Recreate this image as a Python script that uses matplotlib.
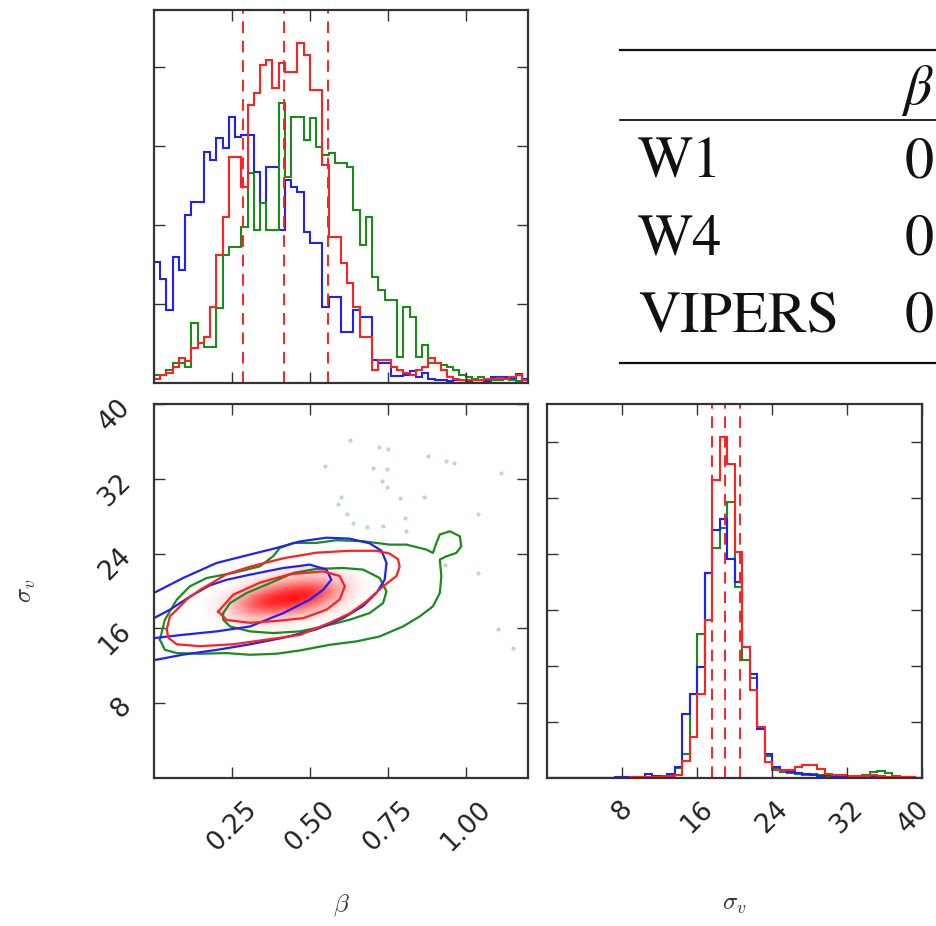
import numpy as np
import matplotlib
matplotlib.use("Agg")
import matplotlib.pyplot as plt
import matplotlib.transforms as mtransforms
from matplotlib.colors import LinearSegmentedColormap
from matplotlib.lines import Line2D

plt.rcParams['mathtext.fontset'] = 'cm'

# ---- data ----
# beta histograms, 60 bins over 0..1.2 (counts, arbitrary units)
beta_edges = np.linspace(0.0, 1.2, 61)
beta_w1 = [121, 104, 73, 126, 113, 168, 181, 181, 231, 223,
           245, 235, 266, 246, 248, 248, 211, 180, 216, 216,
           153, 203, 196, 191, 151, 140, 140, 76, 86, 86,
           51, 51, 73, 66, 66, 23, 20, 20, 7, 7,
           8, 12, 6, 10, 4, 3, 3, 2, 3, 3,
           2, 3, 3, 2, 6, 6, 6, 4, 9, 4]
beta_w4 = [8, 8, 13, 20, 20, 16, 60, 40, 36, 36,
           75, 128, 136, 136, 156, 210, 153, 180, 153, 153,
           280, 206, 266, 266, 243, 265, 236, 228, 230, 220,
           220, 216, 173, 138, 166, 106, 93, 83, 83, 26,
           76, 66, 26, 38, 20, 20, 18, 16, 13, 8,
           6, 4, 6, 4, 3, 3, 4, 3, 2, 3]
beta_vipers = [4, 8, 10, 16, 25, 22, 35, 40, 46, 76,
               128, 166, 226, 226, 196, 278, 290, 318, 323, 295,
               320, 311, 311, 340, 328, 293, 293, 218, 146, 146,
               120, 100, 76, 46, 46, 13, 23, 23, 16, 13,
               10, 8, 13, 16, 25, 20, 13, 6, 4, 3,
               3, 3, 3, 4, 4, 5, 4, 6, 8, 3]
beta_quantiles = [0.286, 0.418, 0.559]

# sigma_v histograms, 50 bins over 0..40
sig_edges = np.linspace(0.0, 40.0, 51)
sig_w1 = [0, 0, 0, 0, 0, 0, 0, 0, 0, 1,
          1, 1, 1, 4, 2, 1, 4, 11, 64, 84,
          111, 205, 248, 259, 219, 196, 131, 104, 49, 24,
          11, 8, 6, 5, 4, 3, 2, 3, 2, 1,
          1, 1, 2, 1, 1, 1, 1, 0, 1, 0]
sig_w4 = [0, 0, 0, 0, 0, 0, 0, 0, 0, 0,
          0, 0, 1, 1, 1, 2, 3, 10, 24, 84,
          144, 205, 230, 250, 276, 191, 118, 100, 50, 22,
          10, 6, 5, 4, 3, 4, 3, 2, 2, 2,
          2, 2, 3, 6, 7, 5, 2, 1, 1, 0]
sig_vipers = [0, 0, 0, 0, 0, 0, 0, 0, 0, 0,
              0, 1, 1, 1, 1, 1, 2, 3, 17, 41,
              84, 158, 298, 341, 314, 226, 131, 88, 51, 16,
              8, 8, 8, 11, 13, 13, 9, 4, 3, 3,
              2, 2, 2, 3, 2, 1, 1, 1, 1, 0]
sig_quantiles = [17.6, 19.0, 20.55]

# 2D contours (beta, sigma_v)
w1_outer_b = [0.0, 0.094, 0.201, 0.308, 0.393, 0.468, 0.553, 0.628, 0.692, 0.73, 0.746, 0.74, 0.714, 0.671, 0.607, 0.521, 0.415, 0.308, 0.201, 0.094, 0.0]
w1_outer_s = [19.8, 21.4, 23.0, 23.9, 24.6, 25.3, 25.7, 25.6, 25.1, 24.3, 23.0, 21.2, 19.8, 18.4, 17.1, 15.9, 15.0, 14.3, 13.7, 13.2, 12.6]
w1_inner_b = [0.0, 0.051, 0.115, 0.179, 0.233, 0.308, 0.415, 0.5, 0.553, 0.569, 0.543, 0.5, 0.415, 0.308, 0.201, 0.094, 0.0]
w1_inner_s = [17.1, 18.0, 19.4, 20.6, 21.2, 21.75, 22.46, 22.82, 22.3, 21.2, 20.14, 19.07, 17.64, 16.21, 15.68, 15.32, 14.96]

w4_outer_b = [0.019, 0.035, 0.073, 0.115, 0.169, 0.254, 0.34, 0.382, 0.404, 0.447, 0.521, 0.585, 0.671, 0.756, 0.81, 0.874, 0.895, 0.906, 0.917, 0.949, 0.981, 0.986, 0.97, 0.938, 0.917, 0.922, 0.917, 0.895, 0.853, 0.799, 0.724, 0.65, 0.564, 0.468, 0.393, 0.308, 0.233, 0.147, 0.073, 0.035, 0.019]
w4_outer_s = [14.79, 16.93, 19.07, 20.5, 21.39, 21.93, 22.64, 23.71, 24.61, 25.14, 25.14, 25.43, 25.32, 24.96, 24.96, 24.43, 24.07, 25.14, 26.04, 26.39, 25.86, 24.79, 24.07, 23.71, 23.36, 21.57, 19.79, 18.36, 17.29, 16.21, 15.14, 14.61, 14.25, 13.64, 13.29, 13.18, 13.36, 13.29, 13.36, 13.71, 14.79]
w4_inner_b = [0.222, 0.244, 0.297, 0.361, 0.447, 0.521, 0.607, 0.671, 0.724, 0.746, 0.735, 0.692, 0.628, 0.543, 0.468, 0.382, 0.308, 0.244, 0.222, 0.222]
w4_inner_s = [17.64, 18.71, 19.79, 20.68, 21.93, 22.36, 22.46, 22.29, 21.39, 19.96, 18.71, 17.64, 16.93, 16.21, 15.68, 15.5, 15.68, 16.21, 16.93, 17.64]

vip_outer_b = [0.041, 0.051, 0.073, 0.105, 0.147, 0.233, 0.308, 0.415, 0.521, 0.628, 0.714, 0.756, 0.783, 0.788, 0.778, 0.735, 0.682, 0.628, 0.564, 0.468, 0.361, 0.254, 0.147, 0.073, 0.046, 0.041]
vip_outer_s = [15.9, 17.3, 18.0, 19.1, 20.1, 21.8, 22.6, 23.5, 24.1, 24.3, 24.3, 24.0, 23.4, 22.6, 21.6, 20.5, 18.9, 17.6, 16.6, 15.3, 14.8, 14.3, 14.1, 14.3, 15.0, 15.9]
vip_inner_b = [0.206, 0.254, 0.34, 0.436, 0.543, 0.596, 0.612, 0.596, 0.553, 0.479, 0.393, 0.308, 0.233, 0.206]
vip_inner_s = [17.8, 19.6, 20.9, 21.8, 22.1, 21.6, 20.5, 19.1, 18.0, 17.1, 16.8, 16.6, 16.9, 17.8]

# VIPERS density (rows sigma 22 -> 15, cols beta 0.15 -> 0.70)
dens_beta = [0.15, 0.20, 0.25, 0.30, 0.35, 0.40, 0.45, 0.50, 0.55, 0.60, 0.65, 0.70]
dens_sig = [22, 21, 20, 19, 18, 17, 16, 15]
vip_density = [
    [0, 0, 0, 0, 0, 0.05, 0.10, 0.15, 0.10, 0.05, 0, 0],
    [0, 0, 0, 0.05, 0.15, 0.25, 0.35, 0.40, 0.35, 0.20, 0.05, 0],
    [0, 0, 0.05, 0.20, 0.45, 0.70, 0.85, 0.90, 0.70, 0.30, 0.05, 0],
    [0, 0.05, 0.20, 0.55, 0.90, 1.00, 1.00, 0.85, 0.45, 0.15, 0, 0],
    [0, 0.05, 0.25, 0.55, 0.70, 0.70, 0.55, 0.35, 0.15, 0.05, 0, 0],
    [0, 0.03, 0.10, 0.20, 0.20, 0.15, 0.10, 0.05, 0, 0, 0, 0],
    [0, 0, 0.03, 0.05, 0.05, 0.03, 0, 0, 0, 0, 0, 0],
    [0, 0, 0, 0, 0, 0, 0, 0, 0, 0, 0, 0],
]

# stray W4 samples
w4_pts_b = [0.628, 0.722, 0.752, 0.879, 0.938, 0.962, 1.114, 0.548, 0.703, 0.746, 0.746, 0.73, 0.601, 0.591, 0.788, 0.865, 0.618, 0.639, 0.682, 0.735, 0.804, 0.81, 1.04, 1.04, 0.933, 1.104, 1.152]
w4_pts_s = [36.2, 35.4, 35.2, 34.4, 33.9, 33.7, 32.6, 33.4, 33.2, 33.0, 31.1, 31.8, 30.0, 29.3, 29.9, 30.0, 28.2, 27.3, 26.8, 26.9, 27.8, 26.4, 28.2, 21.9, 22.8, 15.9, 13.9]

beta_ticks = [0.25, 0.50, 0.75, 1.00]
sig_ticks = [8, 16, 24, 32, 40]

table_rows = ['W1', 'W4', 'VIPERS']
table_vals = ['0', '0', '0']

c_w1, c_w4, c_vip = '#2020ff', '#1a8c1a', '#ff2020'

fig = plt.figure(figsize=(9.36, 9.26), dpi=100)
ax_b = fig.add_axes([154/936, 1-383/926, 374/936, 373/926])
ax_2d = fig.add_axes([154/936, 1-778/926, 374/936, 374/926])
ax_s = fig.add_axes([547/936, 1-778/926, 375/936, 374/926])


def style(ax):
    ax.tick_params(direction='in', length=8, width=1, top=True, right=True,
                   colors='#333333', labelcolor='#222222', labelsize=19, pad=13)
    for s in ax.spines.values():
        s.set_linewidth(1.6)
        s.set_color('#333333')


# top: beta histogram
for vals, c in [(beta_w1, c_w1), (beta_w4, c_w4), (beta_vipers, c_vip)]:
    ax_b.stairs(vals, beta_edges, color=c, lw=1.5)
for q in beta_quantiles:
    ax_b.axvline(q, color=c_vip, ls=(0, (6, 4)), lw=1.4)
ax_b.set_xlim(0, 1.2)
ax_b.set_ylim(0, 373)
ax_b.set_xticks(beta_ticks)
ax_b.set_yticks([79, 158, 237, 316])
ax_b.set_xticklabels([])
ax_b.set_yticklabels([])
style(ax_b)

# bottom-left: 2D
red_cmap = LinearSegmentedColormap.from_list('wr', ['#ffffff', '#ff0000'])
db = dens_beta[1] - dens_beta[0]
ds = dens_sig[0] - dens_sig[1]
ax_2d.imshow(vip_density, cmap=red_cmap, vmin=0, vmax=1, aspect='auto',
             interpolation='bicubic', origin='upper',
             extent=[dens_beta[0] - db/2, dens_beta[-1] + db/2,
                     dens_sig[-1] - ds/2, dens_sig[0] + ds/2])
ax_2d.plot(w4_pts_b, w4_pts_s, 'o', ms=3, color=c_w4, alpha=0.3, mec='none')
for xs, ys, c in [(w4_outer_b, w4_outer_s, c_w4), (w4_inner_b, w4_inner_s, c_w4),
                  (w1_outer_b, w1_outer_s, c_w1), (w1_inner_b, w1_inner_s, c_w1),
                  (vip_outer_b, vip_outer_s, c_vip), (vip_inner_b, vip_inner_s, c_vip)]:
    ax_2d.plot(xs, ys, color=c, lw=1.6)
ax_2d.set_xlim(0, 1.2)
ax_2d.set_ylim(0, 40)
ax_2d.set_xticks(beta_ticks)
ax_2d.set_xticklabels(['%.2f' % t for t in beta_ticks], rotation=45)
ax_2d.set_yticks(sig_ticks)
ax_2d.set_yticklabels([str(t) for t in sig_ticks], rotation=45)
style(ax_2d)
ax_2d.set_xlabel(r'$\beta$', fontsize=18, color='#333333')
ax_2d.xaxis.set_label_coords(0.5, -0.305)
ax_2d.set_ylabel(r'$\sigma_v$', fontsize=18, color='#333333')
ax_2d.yaxis.set_label_coords(-0.31, 0.5)

# bottom-right: sigma_v histogram
for vals, c in [(sig_w4, c_w4), (sig_w1, c_w1), (sig_vipers, c_vip)]:
    ax_s.stairs(vals, sig_edges, color=c, lw=1.5)
for q in sig_quantiles:
    ax_s.axvline(q, color=c_vip, ls=(0, (6, 4)), lw=1.4)
ax_s.set_xlim(0, 40)
ax_s.set_ylim(0, 373.7)
ax_s.set_xticks(sig_ticks)
ax_s.set_xticklabels([str(t) for t in sig_ticks], rotation=45)
ax_s.set_yticks([56, 112, 168, 224, 280, 336])
ax_s.set_yticklabels([])
style(ax_s)
ax_s.set_xlabel(r'$\sigma_v$', fontsize=18, color='#333333')
ax_s.xaxis.set_label_coords(0.5, -0.305)
# the last label sits on the figure edge: nudge it in a little
last = ax_s.get_xticklabels()[-1]
last.set_transform(last.get_transform() +
                   mtransforms.ScaledTranslation(-8/100, 0, fig.dpi_scale_trans))

# table (cut at the right edge)
x0 = 620/936
for ypx, lw in [(50, 1.6), (120, 1.3), (363, 1.6)]:
    fig.add_artist(Line2D([x0, 1.0], [1 - ypx/926, 1 - ypx/926], color='#111111', lw=lw))
fig.text(903/936, 1 - 104/926, 'β', fontsize=40, fontstyle='italic',
         family='STIXGeneral', color='#111111', va='baseline')
for i, (name, val) in enumerate(zip(table_rows, table_vals)):
    ybase = 1 - (177 + 77.5*i)/926
    fig.text(638/936, ybase, name, fontsize=42, family='STIXGeneral',
             color='#111111', va='baseline')
    fig.text(905/936, ybase, val, fontsize=42, family='STIXGeneral',
             color='#111111', va='baseline')

fig.savefig('out.png', dpi=100)
